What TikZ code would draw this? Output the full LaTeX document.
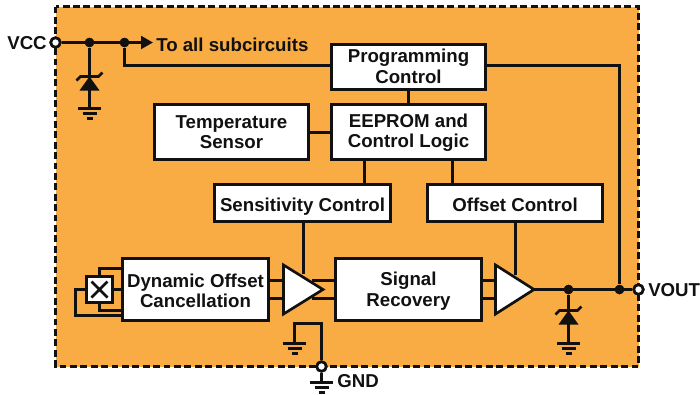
\documentclass[tikz,border=0pt]{standalone}
\usepackage{fontspec}
\setmainfont{Liberation Sans}
\usetikzlibrary{arrows.meta}
\definecolor{panel}{HTML}{F9AB44}
\definecolor{ink}{HTML}{111111}
\tikzset{
  wire/.style={draw=ink,line width=2.2pt},
  box/.style={draw=ink,fill=white,line width=2.2pt,align=center,inner sep=0pt,font=\fontsize{14}{15.4}\selectfont\bfseries,text=ink},
  oneline/.style={text height=14pt,text depth=2pt},
  lbl/.style={inner sep=0pt,font=\fontsize{14}{16}\selectfont\bfseries,text=ink},
  dot/.style={circle,fill=ink,inner sep=0pt,minimum size=9.5*0.75pt},
  port/.style={circle,draw=ink,fill=white,line width=2pt,inner sep=0pt,minimum size=9.5*0.75pt},
  amp/.style={draw=ink,fill=white,line width=2pt,line join=miter},
  groundsym/.pic={
    \draw[wire] (-11.5,0) -- (11.5,0);
    \draw[wire] (-7,5) -- (7,5);
    \draw[wire] (-3,10) -- (3,10);
  },
  zenersym/.pic={
    \fill[ink] (0,0) -- (10,14) -- (-10,14) -- cycle;
    \draw[wire,line width=2pt] (-13,4) -- (-9,0) -- (9,0) -- (13,-4);
  }
}
\begin{document}
\begin{tikzpicture}[x=0.75pt,y=-0.75pt]
\useasboundingbox (0,0) rectangle (700,394);
\fill[panel] (55.5,6.5) rectangle (638.5,366.5);
\draw[ink,line width=1.9pt,dash pattern=on 5.2pt off 2.6pt] (55.5,6.5) rectangle (638.5,366.5);

% blocks
\node[box,minimum width=154*0.75pt,minimum height=45*0.75pt] (prog) at (408.5,67) {Programming\\Control\rule[-1.5pt]{0pt}{1.5pt}};
\node[box,minimum width=154*0.75pt,minimum height=55*0.75pt] (eeprom) at (408.5,132) {\rule{0pt}{11.5pt}EEPROM and\\Control Logic};
\node[box,minimum width=154*0.75pt,minimum height=55*0.75pt] (temp) at (231.5,132) {Temperature\\Sensor};
\node[box,oneline,minimum width=176*0.75pt,minimum height=37*0.75pt] (sens) at (302.5,203) {Sensitivity Control};
\node[box,oneline,minimum width=175*0.75pt,minimum height=37*0.75pt] (offs) at (515,203) {Offset Control};
\node[box,minimum width=146*0.75pt,minimum height=62*0.75pt] (dyn) at (195.5,289.5) {\rule{0pt}{12pt}Dynamic Offset\\Cancellation};
\node[box,minimum width=146*0.75pt,minimum height=62*0.75pt] (sig) at (408.5,289.5) {\rule{0pt}{13pt}Signal\\Recovery};
\node[box,minimum width=26*0.75pt,minimum height=26*0.75pt] (hall) at (99.5,289.5) {};

% ports and junctions
\node[port] (vcc) at (55.5,42.5) {};
\node[port] (vout) at (638.5,289.5) {};
\node[port] (gnd) at (321.5,366.5) {};
\node[dot] (j1) at (89.5,42.5) {};
\node[dot] (j2) at (124.5,42.5) {};
\node[dot] (j3) at (568.5,289.5) {};
\node[dot] (j4) at (619.5,289.5) {};

% labels
\node[lbl,anchor=east] (lvcc) at (47,43) {VCC};
\node[lbl,anchor=west] (lall) at (156,45) {To all subcircuits};
\node[lbl,anchor=west] (lvout) at (648,290) {VOUT};
\node[lbl,anchor=west] (lgnd) at (337,381) {GND};

% helper coordinates
\coordinate (a1tip) at (323,289.5);
\coordinate (a2tip) at (534,289.5);
\coordinate (a1top) at (303.5,274);
\coordinate (a2top) at (515.5,275);
\coordinate (arrowend) at (153,42.5);
\coordinate (z1) at (89.5,76.5);
\coordinate (z1g) at (89.5,108.5);
\coordinate (z2) at (568.5,310.5);
\coordinate (z2g) at (568.5,343.5);
\coordinate (g1) at (294.5,343.5);
\coordinate (g2) at (321.5,382.5);
\coordinate (gt) at (321.5,323.5);

% wires
\draw[wire,-{Triangle[length=9pt,width=9.5pt]}] (vcc) -- (arrowend);
\draw[wire] (j1) -- (z1g);
\draw[wire] (j2) |- (prog.west |- 0,65.5);
\draw[wire] (prog.east |- 0,65.5) -| (j4);
\draw[wire] (prog) -- (eeprom);
\draw[wire] (temp.east |- 0,132.5) -- (eeprom.west |- 0,132.5);
\draw[wire] (364.5,160) -- (364.5,184);
\draw[wire] (452.5,160) -- (452.5,184);
\draw[wire] (sens.south -| a1top) -- (a1top);
\draw[wire] (offs.south -| a2top) -- (a2top);
\draw[wire] (j3) -- (z2g);
\draw[wire] (a2tip) -- (vout);
\draw[wire] (gnd) -- (gt) -| (g1);
\draw[wire] (gnd) -- (g2);
\foreach \y in {280.5,298.5}{
  \draw[wire] (dyn.east |- 0,\y) -- (283,\y);
  \draw[wire] (312,\y) -- (sig.west |- 0,\y);
  \draw[wire] (sig.east |- 0,\y) -- (495,\y);
}
% sensor wiring
\draw[wire] (hall.north) -- (99.5,268.5) -- (dyn.west |- 0,268.5);
\draw[wire] (hall.south) -- (99.5,310.5) -- (dyn.west |- 0,310.5);
\draw[wire] (hall.east) -- (dyn.west |- hall.east);
\draw[wire] (hall.west) -- (75.5,289.5) -- (75.5,315.5) -- (dyn.west |- 0,315.5);
\draw[wire,line width=1.9pt] (91.5,281.5) -- (107.5,297.5) (107.5,281.5) -- (91.5,297.5);

% amplifiers
\draw[amp] (283.5,265) -- (a1tip) -- (283.5,314) -- cycle;
\draw[amp] (495.5,265) -- (a2tip) -- (495.5,314) -- cycle;

% redraw nodes on top
\node[dot] at (j1) {};
\node[dot] at (j2) {};
\node[dot] at (j3) {};
\node[dot] at (j4) {};
\node[port] at (vcc) {};
\node[port] at (vout) {};
\node[port] at (gnd) {};

% symbols
\pic at (z1) {zenersym};
\pic at (z2) {zenersym};
\pic at (z1g) {groundsym};
\pic at (z2g) {groundsym};
\pic at (g1) {groundsym};
\pic at (g2) {groundsym};
\end{tikzpicture}
\end{document}
